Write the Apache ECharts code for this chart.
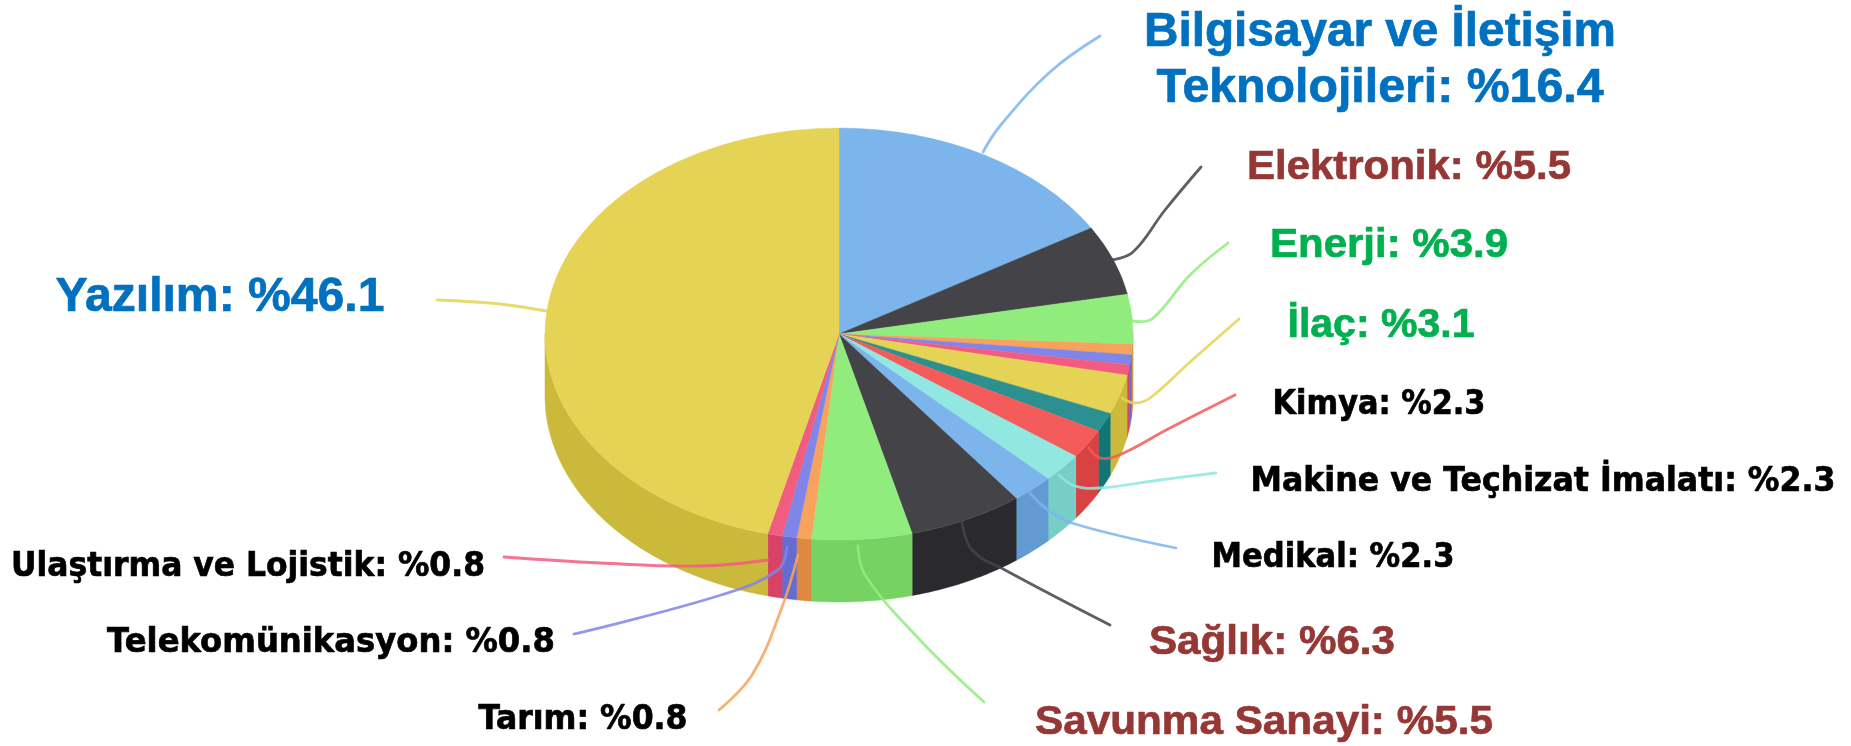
<!DOCTYPE html>
<html>
<head>
<meta charset="utf-8">
<title>Sektörler</title>
<style>
  html, body { margin: 0; padding: 0; background: #fff; }
  #chart { width: 1851px; height: 746px; }
</style>
<script src="https://cdn.jsdelivr.net/npm/echarts@6/dist/echarts.min.js"></script>
</head>
<body>
<div id="chart"></div>
<script>
// dilimler, saat yönünde tepeden başlayarak
const sliceNames = [
  'Bilgisayar ve İletişim\nTeknolojileri', 'Elektronik', 'Enerji', '', '', '', 'İlaç', '',
  'Kimya', 'Makine ve Teçhizat İmalatı', 'Medikal', 'Sağlık', 'Savunma Sanayi',
  'Tarım', 'Telekomünikasyon', 'Ulaştırma ve Lojistik', 'Yazılım'
];
const sliceValues = [16.4, 5.5, 3.9, 0.8, 0.8, 0.8, 3.1, 1.5, 2.3, 2.3, 2.3, 6.3, 5.5, 0.8, 0.8, 0.8, 46.1];

const topColors = ['#7cb5ec', '#434348', '#90ed7d', '#f7a35c', '#8085e9', '#f15c80', '#e4d354', '#2b908f', '#f45b5b',
  '#91e8e1', '#7cb5ec', '#434348', '#90ed7d', '#f7a35c', '#8085e9', '#f15c80', '#e4d354'];
const sideColors = ['#629bd2', '#29292e', '#76d363', '#dd8942', '#666bcf', '#d74266', '#cab93a', '#117675', '#da4141',
  '#77cec7', '#629bd2', '#29292e', '#76d363', '#dd8942', '#666bcf', '#d74266', '#cab93a'];

const BLUE = '#0070c0', RED = '#953735', GREEN = '#00b050', BLACK = '#000';
const ARIAL = '"Liberation Sans"', DEJAVU = '"DejaVu Sans"';

// etiket satırları: [orta x, taban çizgisi y, punto, genişlik]
const labelBoxes = {
  0: [[1380, 47, 48, 472], [1380, 103, 48, 447]],
  1: [[1409, 180, 41, 324]],
  2: [[1389, 258, 40, 238]],
  6: [[1381, 338, 40, 187]],
  8: [[1379, 415, 33, 213]],
  9: [[1543, 492, 33, 585]],
  10: [[1333, 568, 33, 243]],
  11: [[1272, 655, 40, 246]],
  12: [[1264, 735, 41, 458]],
  13: [[583, 730, 33, 209]],
  14: [[331, 653, 33, 448]],
  15: [[248, 577, 33, 474]],
  16: [[220, 312, 48, 329]]
};
const labelColors = { 0: BLUE, 1: RED, 2: GREEN, 6: GREEN, 8: BLACK, 9: BLACK, 10: BLACK, 11: RED, 12: RED, 13: BLACK, 14: BLACK, 15: BLACK, 16: BLUE };
const labelFonts = { 0: ARIAL, 1: ARIAL, 2: ARIAL, 6: ARIAL, 8: DEJAVU, 9: DEJAVU, 10: DEJAVU, 11: ARIAL, 12: ARIAL, 13: DEJAVU, 14: DEJAVU, 15: DEJAVU, 16: ARIAL };

// bağlantı çizgileri
const leaderPaths = {
  0: [[983, 152], [1000, 126], [1050, 72], [1100, 36]],
  1: [[1111, 260], [1133, 252], [1165, 210], [1201, 167]],
  2: [[1133, 321], [1152, 319], [1190, 275], [1228, 243]],
  6: [[1122, 398], [1135, 403], [1150, 398], [1190, 362], [1239, 319]],
  8: [[1089, 448], [1100, 458], [1117, 456], [1170, 428], [1235, 395]],
  9: [[1059, 475], [1075, 486], [1100, 488], [1160, 480], [1216, 473]],
  10: [[1030, 493], [1048, 510], [1075, 524], [1176, 548]],
  11: [[962, 522], [972, 550], [1005, 570], [1110, 625]],
  12: [[858, 546], [865, 575], [920, 640], [984, 702]],
  13: [[798, 555], [781, 610], [752, 675], [719, 710]],
  14: [[787, 547], [778, 570], [721, 595], [574, 634]],
  15: [[504, 557], [600, 563], [700, 566], [768, 560]],
  16: [[437, 300], [500, 304], [546, 311]]
};

const pie = { cx: 839, cy: 334, rx: 294, ry: 206, depth: 62 };

const total = sliceValues.reduce((a, b) => a + b, 0);
const starts = [];
sliceValues.reduce((sum, v, i) => { starts[i] = sum; return sum + v; }, 0);

const toAngle = v => v / total * Math.PI * 2;
const ellipsePoint = (a, dy) => [
  pie.cx + pie.rx * Math.sin(a),
  pie.cy + dy - pie.ry * Math.cos(a)
];

// yan yüzey sadece önde kalan yarıda görünür
function renderSide(params, api) {
  const i = api.value(0);
  const from = Math.max(toAngle(starts[i]), Math.PI / 2);
  const to = Math.min(toAngle(starts[i] + api.value(1)), Math.PI * 1.5);
  if (to <= from) return null;
  const upper = [], lower = [];
  const steps = Math.ceil((to - from) / 0.01);
  for (let k = 0; k <= steps; k++) {
    const a = from + (to - from) * k / steps;
    upper.push(ellipsePoint(a, 0));
    lower.unshift(ellipsePoint(a, pie.depth));
  }
  return {
    type: 'polygon',
    shape: { points: upper.concat(lower) },
    style: { fill: sideColors[i], stroke: sideColors[i], lineWidth: 0.5 }
  };
}

function renderTop(params, api) {
  const i = api.value(0);
  const a0 = toAngle(starts[i]) - Math.PI / 2;
  const a1 = toAngle(starts[i] + api.value(1)) - Math.PI / 2;
  return {
    type: 'sector',
    x: pie.cx,
    y: pie.cy,
    scaleY: pie.ry / pie.rx,
    shape: { cx: 0, cy: 0, r0: 0, r: pie.rx, startAngle: a0, endAngle: a1, clockwise: true },
    style: { fill: topColors[i], stroke: topColors[i], lineWidth: 0.5 }
  };
}

const measure = document.createElement('canvas').getContext('2d');

function renderLabel(params, api) {
  const i = api.value(0);
  if (!sliceNames[i]) return null;
  const children = [{
    type: 'polyline',
    shape: { points: leaderPaths[i], smooth: 0.4 },
    style: { fill: null, stroke: topColors[i], lineWidth: 2.8, opacity: 0.85, lineCap: 'round' }
  }];
  const text = sliceNames[i] + ': %' + api.value(1).toFixed(1);
  text.split('\n').forEach((line, n) => {
    const [x, base, size, width] = labelBoxes[i][n];
    const font = 'bold ' + size + 'px ' + labelFonts[i];
    measure.font = font;
    children.push({
      type: 'text',
      x: x,
      y: base - size * 0.3,
      scaleX: width / measure.measureText(line).width,
      style: {
        text: line, font: font, fill: labelColors[i], align: 'center', verticalAlign: 'middle',
        stroke: labelColors[i], lineWidth: 0.7
      }
    });
  });
  return { type: 'group', children: children };
}

const chart = echarts.init(document.getElementById('chart'), null, { renderer: 'canvas' });
const seriesData = sliceValues.map((v, i) => [i, v]);

chart.setOption({
  backgroundColor: '#fff',
  animation: false,
  series: [
    { type: 'custom', coordinateSystem: 'none', z: 1, silent: true, renderItem: renderSide, data: seriesData },
    { type: 'custom', coordinateSystem: 'none', z: 2, silent: true, renderItem: renderTop, data: seriesData },
    { type: 'custom', coordinateSystem: 'none', z: 3, silent: true, renderItem: renderLabel, data: seriesData }
  ]
});
</script>
</body>
</html>
